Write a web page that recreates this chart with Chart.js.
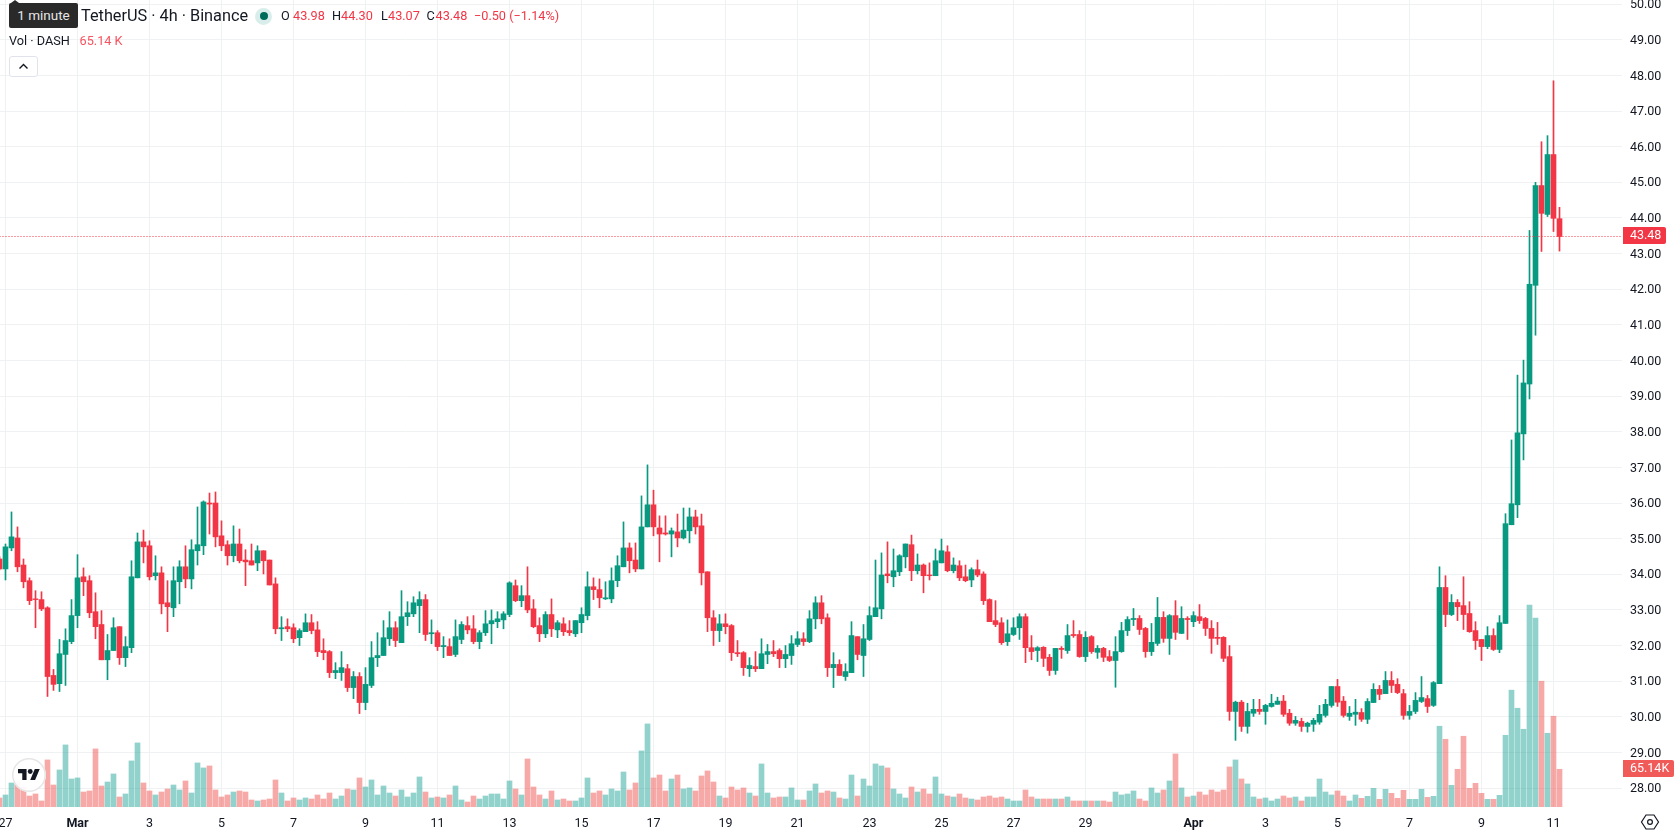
<!DOCTYPE html>
<html>
<head>
<meta charset="utf-8">
<title>DASH / TetherUS 4h</title>
<script src="https://cdn.jsdelivr.net/npm/chart.js@4/dist/chart.umd.min.js"></script>
<style>
html,body{margin:0;padding:0;background:#fff;overflow:hidden;}
#wrap{position:relative;width:1678px;height:835px;font-family:Roboto,sans-serif;color:#131722;}
canvas{position:absolute;left:0;top:0;}
.lbl{position:absolute;white-space:nowrap;font-size:12.7px;line-height:18px;}
.red{color:#F23645;}
#tip{position:absolute;left:9px;top:3px;width:69px;height:25px;background:#2a2a2a;border-radius:2px;color:#e6e6e6;font-size:13.5px;line-height:25px;text-align:center;}
#tip:before{content:"";position:absolute;left:2px;top:-3px;border-left:4px solid transparent;border-right:4px solid transparent;border-bottom:3px solid #2a2a2a;}
#dot{position:absolute;left:255px;top:7.5px;width:17px;height:17px;border-radius:50%;background:#d9eeea;}
#dot:after{content:"";position:absolute;left:4.5px;top:4.5px;width:8px;height:8px;border-radius:50%;background:#006b5b;}
#collapse{position:absolute;left:9px;top:56px;width:27px;height:19px;border:1px solid #e0e3eb;border-radius:3px;background:#fff;}
#logo{position:absolute;left:12px;top:758px;width:34px;height:34px;border-radius:50%;background:rgba(255,255,255,.92);box-shadow:0 0 0 1.5px #e6e6e6 inset;}
#gear{position:absolute;left:1640px;top:812px;}
</style>
</head>
<body>
<div id="wrap">
<canvas id="chartarea" width="1678" height="835"></canvas>
<div id="tip">1 minute</div>
<div class="lbl" style="left:81px;top:7px;font-size:16.3px;">TetherUS · 4h · Binance</div>
<div id="dot"></div>
<div class="lbl" style="left:281px;top:7px;">O</div><div class="lbl red" style="left:293px;top:7px;">43.98</div>
<div class="lbl" style="left:332px;top:7px;">H</div><div class="lbl red" style="left:341px;top:7px;">44.30</div>
<div class="lbl" style="left:381px;top:7px;">L</div><div class="lbl red" style="left:388px;top:7px;">43.07</div>
<div class="lbl" style="left:426.5px;top:7px;">C</div><div class="lbl red" style="left:435.5px;top:7px;">43.48</div>
<div class="lbl red" style="left:474px;top:7px;">−0.50 (−1.14%)</div>
<div class="lbl" style="left:9px;top:32px;">Vol · DASH</div>
<div class="lbl" style="left:79.6px;top:32px;color:#F7525F;">65.14 K</div>
<div id="collapse"><svg width="27" height="19" viewBox="0 0 27 19"><path d="M9.5 11.5l4-4 4 4" fill="none" stroke="#131722" stroke-width="1.4"/></svg></div>
<div id="logo"><svg style="position:absolute;left:6px;top:11px" width="22" height="11" viewBox="0 4 36 18"><path d="M14 22H7V11H0V4h14v18zM28 22h-8l7.5-18h8L28 22z" fill="#131722"/><circle cx="20" cy="8" r="4" fill="#131722"/></svg></div>
<svg id="gear" width="20" height="20" viewBox="0 0 20 20"><path d="M6 3h8l4.5 7-4.5 7H6l-4.5-7z" fill="none" stroke="#131722" stroke-width="1.2"/><circle cx="10" cy="10" r="2.4" fill="none" stroke="#131722" stroke-width="1.2"/></svg>
</div>
<script>
const opens=[34.43,34.15,34.74,35.02,34.26,33.82,33.31,33.29,33.06,31.16,
30.93,31.75,32.11,32.84,33.93,33.82,32.95,32.59,31.60,31.86,
32.53,31.66,31.94,33.90,34.91,34.80,33.96,34.04,33.20,33.06,
33.79,34.21,33.87,34.66,34.80,36.00,36.00,35.08,34.83,34.52,
34.85,34.40,34.38,34.32,34.66,34.40,33.73,32.47,32.53,32.50,
32.22,32.39,32.64,32.44,31.86,31.83,31.24,31.24,31.35,30.82,
31.13,30.40,30.88,31.66,31.72,32.19,32.50,32.08,32.81,32.89,
33.12,33.29,32.33,32.36,31.97,31.97,31.75,32.17,32.56,32.47,
32.11,32.36,32.61,32.67,32.72,32.87,33.68,33.26,33.40,33.03,
32.56,32.33,32.87,32.44,32.61,32.42,32.33,32.64,32.84,33.65,
33.57,33.31,33.31,33.82,34.21,34.74,34.40,34.15,35.33,35.95,
35.30,35.16,35.13,35.19,35.02,35.22,35.61,35.36,34.07,32.78,
32.42,32.61,32.56,31.80,31.80,31.35,31.41,31.35,31.75,31.83,
31.86,31.63,31.72,32.03,32.19,32.11,32.75,33.20,32.78,31.38,
31.47,31.13,31.24,32.25,31.72,32.17,32.81,33.03,34.01,33.93,
34.07,34.49,34.83,34.10,34.26,33.98,33.96,34.32,34.63,34.10,
34.24,33.93,33.84,34.13,34.01,33.29,32.70,32.64,32.11,32.31,
32.50,32.81,31.94,31.86,31.95,31.67,31.30,31.92,31.86,32.31,
32.31,31.69,32.25,31.81,31.92,31.69,31.58,31.83,32.42,32.73,
32.76,32.48,31.83,32.06,32.79,32.20,32.84,32.34,32.76,32.67,
32.81,32.76,32.48,32.23,32.23,31.69,30.15,30.41,29.73,30.10,
30.21,30.15,30.29,30.35,30.44,30.10,29.82,29.87,29.73,29.79,
29.85,30.04,30.32,30.85,30.44,30.01,30.07,30.12,29.93,30.40,
30.77,30.65,31.02,30.91,30.65,30.04,30.15,30.43,30.51,30.32,
30.93,33.63,32.87,33.21,33.12,32.90,32.42,32.17,31.97,32.28,
31.89,32.62,35.39,35.95,37.94,39.34,42.11,44.91,44.10,45.78,
43.98];
const closes=[34.15,34.77,35.05,34.21,33.79,33.26,33.29,33.03,31.13,30.91,
31.77,32.14,32.84,33.90,33.79,32.92,32.53,31.60,31.86,32.50,
31.66,31.97,33.93,34.91,34.77,33.93,34.04,33.17,33.09,33.82,
34.21,33.87,34.69,34.83,36.03,35.97,35.05,34.80,34.52,34.85,
34.38,34.35,34.26,34.66,34.38,33.70,32.47,32.50,32.47,32.19,
32.42,32.64,32.42,31.83,31.80,31.24,31.30,31.38,30.82,31.13,
30.40,30.91,31.66,31.72,32.22,32.50,32.14,32.81,32.92,33.20,
33.29,32.31,32.36,31.97,32.00,31.72,32.25,32.59,32.44,32.11,
32.36,32.61,32.70,32.75,32.89,33.76,33.26,33.40,33.00,32.53,
32.33,32.87,32.47,32.64,32.39,32.36,32.70,32.87,33.65,33.57,
33.34,33.34,33.82,34.24,34.74,34.38,34.15,35.33,35.95,35.33,
35.13,35.13,35.22,35.02,35.24,35.61,35.33,34.04,32.78,32.42,
32.61,32.53,31.80,31.77,31.38,31.44,31.35,31.77,31.83,31.77,
31.63,31.75,32.05,32.19,32.11,32.75,33.20,32.75,31.38,31.47,
31.16,31.27,32.28,31.75,32.19,32.84,33.06,33.98,33.96,34.10,
34.52,34.85,34.10,34.26,33.96,33.96,34.38,34.66,34.10,34.26,
33.90,33.82,34.13,33.98,33.26,32.67,32.59,32.08,32.33,32.50,
32.81,31.94,31.83,31.94,31.64,31.30,31.92,31.89,32.28,32.28,
31.69,32.23,31.83,31.92,31.67,31.58,31.83,32.42,32.73,32.76,
32.45,31.83,32.09,32.79,32.20,32.84,32.37,32.76,32.73,32.84,
32.70,32.48,32.20,32.20,31.64,30.15,30.41,29.73,30.15,30.21,
30.15,30.32,30.38,30.44,30.07,29.82,29.90,29.73,29.82,29.90,
30.07,30.35,30.85,30.41,30.04,30.10,30.13,29.93,30.43,30.77,
30.63,31.02,30.88,30.68,30.04,30.15,30.46,30.54,30.29,30.96,
33.63,32.87,33.21,33.09,32.87,32.39,32.14,31.97,32.28,31.89,
32.64,35.42,35.98,37.97,39.37,42.14,44.91,44.13,45.78,43.99,
43.48];
const highs=[34.50,34.85,35.75,35.33,34.43,33.90,33.54,33.51,33.09,31.33,
32.17,32.47,33.29,34.55,34.18,33.96,33.48,32.98,32.31,32.78,
32.53,32.25,34.38,35.16,35.24,34.94,34.52,34.21,33.82,34.21,
34.38,34.80,34.97,35.89,36.06,36.28,36.31,35.50,34.94,35.36,
35.27,34.69,34.85,34.80,34.66,34.40,33.90,32.81,32.75,32.61,
32.47,32.89,32.87,32.67,32.19,31.86,31.52,31.83,31.47,31.27,
31.24,31.38,32.11,32.36,32.70,32.95,32.67,33.54,33.23,33.37,
33.51,33.43,32.72,32.42,32.25,32.19,32.72,32.67,32.81,32.84,
32.42,32.98,33.00,32.95,32.95,33.79,33.84,33.68,34.21,33.29,
32.78,32.95,33.31,32.70,32.78,32.70,32.70,33.06,34.07,33.90,
33.87,33.79,34.18,34.52,35.47,34.88,34.88,36.20,37.07,36.36,
35.64,35.64,35.30,35.69,35.86,35.86,35.80,35.69,34.07,32.98,
32.87,32.89,32.59,32.14,31.83,31.66,31.83,32.19,32.03,32.14,
31.91,32.00,32.28,32.39,32.36,32.98,33.37,33.40,32.89,31.80,
31.60,31.49,32.67,32.25,32.59,33.09,34.40,34.60,34.91,34.71,
34.55,34.85,35.10,34.57,34.29,34.32,34.71,34.99,34.80,34.46,
34.38,34.26,34.18,34.40,34.07,33.31,33.26,32.78,32.72,32.78,
32.89,32.89,32.28,31.97,31.97,31.75,31.92,31.97,32.59,32.70,
32.42,32.39,32.28,32.00,31.95,31.86,32.25,32.65,32.81,33.04,
32.84,32.51,32.62,33.35,32.95,32.87,33.26,33.09,32.81,32.95,
33.15,32.79,32.70,32.65,32.25,32.00,30.44,30.46,30.38,30.49,
30.49,30.35,30.63,30.55,30.60,30.21,30.01,29.96,29.85,29.96,
30.32,30.49,30.85,31.05,30.57,30.29,30.49,30.23,30.51,30.93,
30.88,31.27,31.27,31.07,30.77,30.32,30.68,31.13,30.60,30.99,
34.21,33.96,33.43,33.29,33.93,33.23,32.67,32.17,32.53,32.47,
32.84,35.70,37.77,39.59,40.01,43.65,45.00,46.14,46.31,47.85,
44.30];
const lows=[34.12,33.84,34.66,34.07,33.62,33.15,32.50,32.98,30.57,30.74,
30.71,30.88,32.05,32.50,33.40,32.78,32.19,31.60,31.04,31.86,
31.47,31.41,31.80,33.90,34.32,33.84,33.84,32.89,32.39,32.81,
33.17,33.62,33.59,34.26,34.55,35.13,34.77,34.66,34.26,34.35,
34.32,33.68,34.26,34.10,34.01,33.70,32.33,32.14,32.39,32.08,
32.00,32.39,32.33,31.69,31.60,31.10,31.07,31.02,30.71,30.51,
30.09,30.20,30.82,31.41,31.72,32.00,31.97,32.08,32.56,32.81,
32.36,32.14,32.05,31.86,31.66,31.72,31.69,32.05,32.33,32.05,
31.91,32.28,32.05,32.50,32.47,32.81,33.23,33.09,32.92,32.50,
32.11,32.22,32.25,32.22,32.28,32.28,32.25,32.36,32.72,33.29,
33.06,33.29,33.20,33.65,34.21,34.04,34.07,34.15,35.33,35.08,
34.35,35.10,34.49,34.77,34.99,34.88,35.13,33.70,32.39,32.00,
32.11,32.33,31.58,31.69,31.16,31.13,31.27,31.35,31.49,31.69,
31.38,31.38,31.47,31.97,32.00,32.08,32.47,32.61,31.13,30.82,
31.16,31.02,31.24,31.60,31.13,32.14,32.81,32.75,33.76,33.65,
33.96,34.18,33.82,34.01,33.48,33.84,33.96,34.32,34.07,34.04,
33.82,33.79,33.65,33.93,33.15,32.67,32.53,32.03,32.00,32.28,
32.17,31.52,31.60,31.55,31.41,31.16,31.19,31.64,31.78,32.23,
31.67,31.55,31.78,31.64,31.55,31.55,30.83,31.81,32.28,32.56,
32.31,31.67,31.72,32.00,32.09,31.75,32.17,32.34,32.17,32.53,
32.62,32.28,31.78,32.03,31.55,29.90,29.34,29.59,29.54,30.01,
30.07,29.79,30.27,30.35,30.01,29.76,29.76,29.59,29.57,29.59,
29.79,29.99,30.27,30.29,29.99,29.90,29.76,29.87,29.81,30.40,
30.48,30.65,30.68,30.65,29.93,29.93,30.09,30.40,30.12,30.29,
30.93,32.53,32.84,32.70,32.45,32.37,31.89,31.58,31.91,31.86,
31.80,32.62,35.39,35.59,37.21,38.92,40.71,43.06,44.04,43.62,
43.07];
// volume in thousands of DASH
const volumes=[15.6,20.8,41.5,43.2,34.6,19.0,22.5,10.4,81.3,38.0,
64.0,107.2,48.4,50.2,25.9,27.7,100.3,36.3,43.2,57.1,
17.3,22.5,79.6,110.7,41.5,27.7,20.8,25.9,31.1,38.0,
29.4,45.0,24.2,76.1,67.5,70.9,29.4,17.3,20.8,25.9,
27.7,25.9,12.1,10.4,12.1,13.8,46.7,24.2,10.4,15.6,
12.1,15.6,13.8,20.8,13.8,24.2,13.8,19.0,31.1,29.4,
50.2,34.6,46.7,20.8,36.3,24.2,19.0,29.4,17.3,24.2,
51.9,25.9,15.6,17.3,15.6,20.8,36.3,12.1,8.6,19.0,
13.8,19.0,22.5,22.5,13.8,45.0,31.1,20.8,83.0,34.6,
20.8,13.8,27.7,12.1,13.8,10.4,10.4,15.6,50.2,24.2,
27.7,20.8,31.1,27.7,60.5,29.4,41.5,96.9,143.5,50.2,
55.3,27.7,48.4,55.3,31.1,32.9,27.7,53.6,62.3,43.2,
19.0,15.6,34.6,29.4,32.9,24.2,19.0,74.4,24.2,15.6,
17.3,17.3,32.9,12.1,12.1,27.7,39.8,24.2,27.7,25.9,
15.6,13.8,55.3,19.0,48.4,36.3,74.4,70.9,67.5,31.1,
22.5,15.6,34.6,25.9,31.1,22.5,51.9,22.5,19.0,17.3,
22.5,15.6,13.8,12.1,17.3,19.0,15.6,17.3,13.8,10.4,
10.4,29.4,17.3,13.8,13.8,13.8,13.8,13.8,17.3,10.4,
10.4,10.4,10.4,10.4,10.4,8.6,25.9,20.8,22.5,27.7,
13.8,10.4,32.9,24.2,29.4,45.0,91.7,32.9,17.3,19.0,
25.9,20.8,29.4,25.9,29.4,69.2,81.3,48.4,39.8,17.3,
13.8,15.6,10.4,13.8,19.0,15.6,17.3,10.4,17.3,17.3,
48.4,25.9,20.8,27.7,19.0,10.4,20.8,15.0,18.4,32.3,
13.3,30.6,23.6,15.0,28.8,13.3,13.3,30.6,16.7,18.4,
139.5,117.0,37.5,65.14,122.2,32.3,40.9,23.6,13.3,13.3,
20.2,123.9,201.8,170.6,134.3,348.8,326.3,217.3,127.4,156.8,
65.14];
// candle index of each date label on the time axis
const dateTicks=[1,13,25,37,49,61,73,85,97,109,121,133,145,157,169,181,199,211,223,235,247,259];
const dateLabels=["27","Mar","3","5","7","9","11","13","15","17","19","21","23","25","27","29","Apr","3","5","7","9","11"];
const priceTicks=[28,29,30,31,32,33,34,35,36,37,38,39,40,41,42,43,44,45,46,47,48,49,50];

const upColor="#089981";
const downColor="#F23645";
const upVol="rgba(38,166,154,0.5)";
const downVol="rgba(239,83,80,0.5)";
const fontName='Roboto,sans-serif';

const isUp=i=>closes[i]>=opens[i];
const lastPrice=closes[closes.length-1];
const lastVol=volumes[volumes.length-1];

// candles are two floating bar sets, one thin for the wicks and one wide for the bodies
const wicks=highs.map((h,i)=>({x:i,y:[lows[i],h]}));
const bodies=opens.map((o,i)=>({x:i,y:[o,closes[i]]}));
const volBars=volumes.map((v,i)=>({x:i,y:v}));

// price and volume tags on the right edge
const tagsPlugin={
  id:"tags",
  afterDraw(chart){
    const c=chart.ctx;
    const priceY=chart.scales.y.getPixelForValue(lastPrice);
    const volY=chart.scales.vol.getPixelForValue(lastVol);
    function tag(y,w,fill,txt){
      c.save();
      c.fillStyle=fill;
      c.beginPath();
      c.roundRect(1623,Math.round(y)-9,w,17,[0,2,2,0]);
      c.fill();
      c.fillStyle="#fff";
      c.font="12.5px "+fontName;
      c.textBaseline="middle";
      c.textAlign="left";
      c.fillText(txt,1630,Math.round(y));
      c.restore();
    }
    tag(priceY,43,downColor,lastPrice.toFixed(2));
    tag(volY,51,"#F05A58",lastVol.toFixed(2)+"K");
  }
};

new Chart(document.querySelector("#chartarea"),{
  data:{
    datasets:[
      {type:"line",data:[{x:0,y:lastPrice},{x:271,y:lastPrice}],borderColor:downColor,borderWidth:1,borderDash:[1,2],pointRadius:0,order:0},
      {type:"bar",data:bodies,backgroundColor:opens.map((o,i)=>isUp(i)?upColor:downColor),barThickness:5,grouped:false,order:1},
      {type:"bar",data:wicks,backgroundColor:opens.map((o,i)=>isUp(i)?upColor:downColor),barThickness:1,grouped:false,order:2},
      {type:"bar",yAxisID:"vol",data:volBars,backgroundColor:opens.map((o,i)=>isUp(i)?upVol:downVol),barThickness:5,grouped:false,order:3}
    ]
  },
  options:{
    responsive:false,
    animation:false,
    events:[],
    layout:{padding:0},
    plugins:{legend:{display:false},tooltip:{enabled:false}},
    scales:{
      x:{
        type:"linear",
        offset:false,
        min:0.0833,
        max:270.4167,
        border:{display:false},
        grid:{color:"#f0f1f3",drawTicks:false,offset:false},
        afterBuildTicks(s){s.ticks=dateTicks.map(v=>({value:v}));},
        afterFit(s){s.height=28;s.paddingLeft=0;s.paddingRight=0;},
        ticks:{
          autoSkip:false,
          maxRotation:0,
          padding:9,
          color:"#131722",
          callback(v){return dateLabels[dateTicks.indexOf(v)];},
          font(ctx){
            const lab=ctx.tick?dateLabels[dateTicks.indexOf(ctx.tick.value)]:"";
            return {family:fontName,size:12.5,weight:(lab==="Mar"||lab==="Apr")?"bold":"normal"};
          }
        }
      },
      y:{
        position:"right",
        min:27.4685,
        max:50.1175,
        border:{display:false},
        grid:{color:"#f0f1f3",drawTicks:false},
        afterBuildTicks(s){s.ticks=priceTicks.map(v=>({value:v}));},
        afterFit(s){s.width=56;s.paddingTop=0;s.paddingBottom=0;},
        ticks:{
          padding:8,
          labelOffset:1,
          color:"#131722",
          font:{family:fontName,size:12.5},
          callback(v){return v.toFixed(2);}
        }
      },
      // volume sits on its own hidden scale at the foot of the pane
      vol:{
        display:false,
        min:0,
        max:1394
      }
    }
  },
  plugins:[tagsPlugin]
});
</script>
</body>
</html>
